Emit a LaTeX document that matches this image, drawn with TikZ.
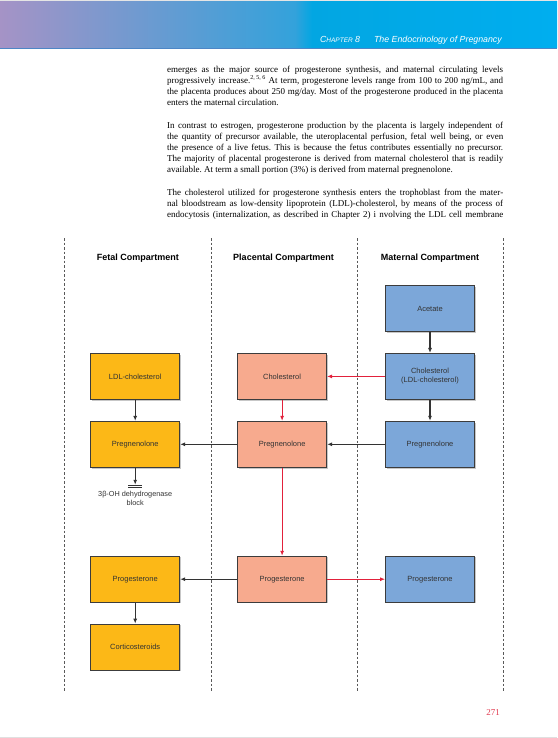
\documentclass[tikz,border=0pt]{standalone}
\usepackage{fontspec}
\setmainfont{Liberation Serif}
\setsansfont{Liberation Sans}
\usetikzlibrary{positioning, arrows.meta, shadows}

\definecolor{fetalcol}{HTML}{FCB817}
\definecolor{placcol}{HTML}{F7AA8E}
\definecolor{matcol}{HTML}{7CA7D9}
\definecolor{redline}{HTML}{E2213B}
\definecolor{boxline}{HTML}{3C3C3C}
\definecolor{pagered}{HTML}{E23A4F}
\definecolor{hdleft}{HTML}{A593C6}
\definecolor{hdmid}{HTML}{33A2DB}
\definecolor{hdcyan}{HTML}{02A6E2}
\definecolor{hdright}{HTML}{00AEEF}
\definecolor{hdline}{HTML}{4D86C6}

\newcommand\justsetup{\frenchspacing\spaceskip=0pt\relax\xspaceskip=0pt\relax}

\tikzset{
  compbox/.style={draw=boxline, line width=0.9pt, minimum width=89pt,
    minimum height=46pt, inner sep=1pt, align=center,
    font=\sffamily\fontsize{7.5}{9}\selectfont, text=black!80,
    drop shadow={shadow xshift=1.2pt, shadow yshift=-1.2pt,
      fill=black!22, opacity=1}},
  fetal/.style={compbox, fill=fetalcol},
  placental/.style={compbox, fill=placcol},
  maternal/.style={compbox, fill=matcol},
  blackarr/.style={-{Latex[length=5pt,width=4pt]}, line width=1.1pt,
    draw=black!80},
  redarr/.style={-{Latex[length=5pt,width=4pt]}, line width=0.9pt,
    draw=redline},
  compline/.style={dash pattern=on 2.5pt off 2pt, line width=0.6pt,
    draw=black!65},
  heading/.style={font=\sffamily\bfseries\fontsize{9}{10}\selectfont},
  bodytext/.style={anchor=north west, inner sep=0pt, text width=336pt,
    align=justify, font=\fontsize{9}{11}\selectfont,
    execute at begin node=\justsetup},
}

\begin{document}
\begin{tikzpicture}[x=1pt, y=-1pt]
\useasboundingbox (0,0) rectangle (557,738);
\fill[white] (0,0) rectangle (557,738);

% page header
\fill[black!10] (0,0) rectangle (557,2);
\shade[left color=hdleft, right color=hdmid] (0,2) rectangle (295,48);
\shade[left color=hdmid, right color=hdcyan] (295,2) rectangle (312,48);
\shade[left color=hdcyan, right color=hdright] (312,2) rectangle (557,48);
\draw[hdline, line width=1.2pt] (0,48.3) -- (557,48.3);
\node[anchor=base east, inner sep=0pt, text=white,
    font=\sffamily\itshape\fontsize{8.8}{10}\selectfont] (chap) at (502,42.5)
    {C{\fontsize{6.5}{8}\selectfont HAPTER} 8\hspace{14pt}The Endocrinology of Pregnancy};

% running text
\node[bodytext] (para1) at (167,66.2) {%
\makebox[336pt][s]{emerges as the major source of progesterone synthesis, and maternal circulating levels}\\
\makebox[336pt][s]{progressively increase.\textsuperscript{2, 5, 6} At term, progesterone levels range from 100 to 200 ng/mL, and}\\
\makebox[336pt][s]{the placenta produces about 250 mg/day. Most of the progesterone produced in the placenta}\\
enters the maternal circulation.};
\node[bodytext] (para2) at (167,122.2) {%
\makebox[336pt][s]{In contrast to estrogen, progesterone production by the placenta is largely independent of}\\
\makebox[336pt][s]{the quantity of precursor available, the uteroplacental perfusion, fetal well being, or even}\\
\makebox[336pt][s]{the presence of a live fetus. This is because the fetus contributes essentially no precursor.}\\
\makebox[336pt][s]{The majority of placental progesterone is derived from maternal cholesterol that is readily}\\
available. At term a small portion (3\%) is derived from maternal pregnenolone.};
\node[bodytext] (para3) at (167,189.2) {%
\makebox[336pt][s]{The cholesterol utilized for progesterone synthesis enters the trophoblast from the mater-}\\
\makebox[336pt][s]{nal bloodstream as low-density lipoprotein (LDL)-cholesterol, by means of the process of}\\
\makebox[336pt][s]{endocytosis (internalization, as described in Chapter 2) i nvolving the LDL cell membrane}};

% compartments
\draw[compline] (64.5,238) -- (64.5,691);
\draw[compline] (211,238) -- (211,691);
\draw[compline] (357,238) -- (357,691);
\draw[compline] (503.5,238) -- (503.5,691);
\node[heading] (fhead) at (138,258) {Fetal Compartment};
\node[heading] (phead) at (283.5,258) {Placental Compartment};
\node[heading] (mhead) at (430,258) {Maternal Compartment};

\node[maternal] (mace) at (430,308.5) {Acetate};
\node[maternal, below=21pt of mace] (mchol) {Cholesterol\\(LDL-cholesterol)};
\node[placental, left=58pt of mchol] (pchol) {Cholesterol};
\node[fetal, left=57pt of pchol] (fldl) {LDL-cholesterol};
\node[fetal, below=21pt of fldl] (fpreg) {Pregnenolone};
\node[placental, below=21pt of pchol] (ppreg) {Pregnenolone};
\node[maternal, below=21pt of mchol] (mpreg) {Pregnenolone};
\node[fetal, below=88pt of fpreg] (fprog) {Progesterone};
\node[placental, below=88pt of ppreg] (pprog) {Progesterone};
\node[maternal, below=88pt of mpreg] (mprog) {Progesterone};
\node[fetal, below=21pt of fprog] (fcort) {Corticosteroids};

\coordinate[below=18.5pt of fpreg] (blk);
\node[below=4pt of blk, align=center, inner sep=1pt,
    font=\sffamily\fontsize{7.3}{8.5}\selectfont, text=black!80] (blklbl)
    {3β-OH dehydrogenase\\block};

\draw[blackarr] (mace) -- (mchol);
\draw[redarr] (mchol) -- (pchol);
\draw[blackarr] (fldl) -- (fpreg);
\draw[redarr] (pchol) -- (ppreg);
\draw[blackarr] (mchol) -- (mpreg);
\draw[blackarr] (ppreg) -- (fpreg);
\draw[blackarr] (mpreg) -- (ppreg);
\draw[redarr] (ppreg) -- (pprog);
\draw[blackarr] (pprog) -- (fprog);
\draw[redarr] (pprog) -- (mprog);
\draw[blackarr] (fprog) -- (fcort);
\draw[blackarr, shorten >=1.5pt] (fpreg) -- (blk);
\draw[line width=0.7pt, black!80] ([xshift=-7pt,yshift=-1pt]blk) -- ([xshift=7pt,yshift=-1pt]blk);
\draw[line width=0.7pt, black!80] ([xshift=-7pt,yshift=1pt]blk) -- ([xshift=7pt,yshift=1pt]blk);

% folio
\node[text=pagered, font=\fontsize{9}{10}\selectfont] (pagenum) at (493,713) {271};
\draw[black!12] (0,737.5) -- (557,737.5);
\end{tikzpicture}
\end{document}
